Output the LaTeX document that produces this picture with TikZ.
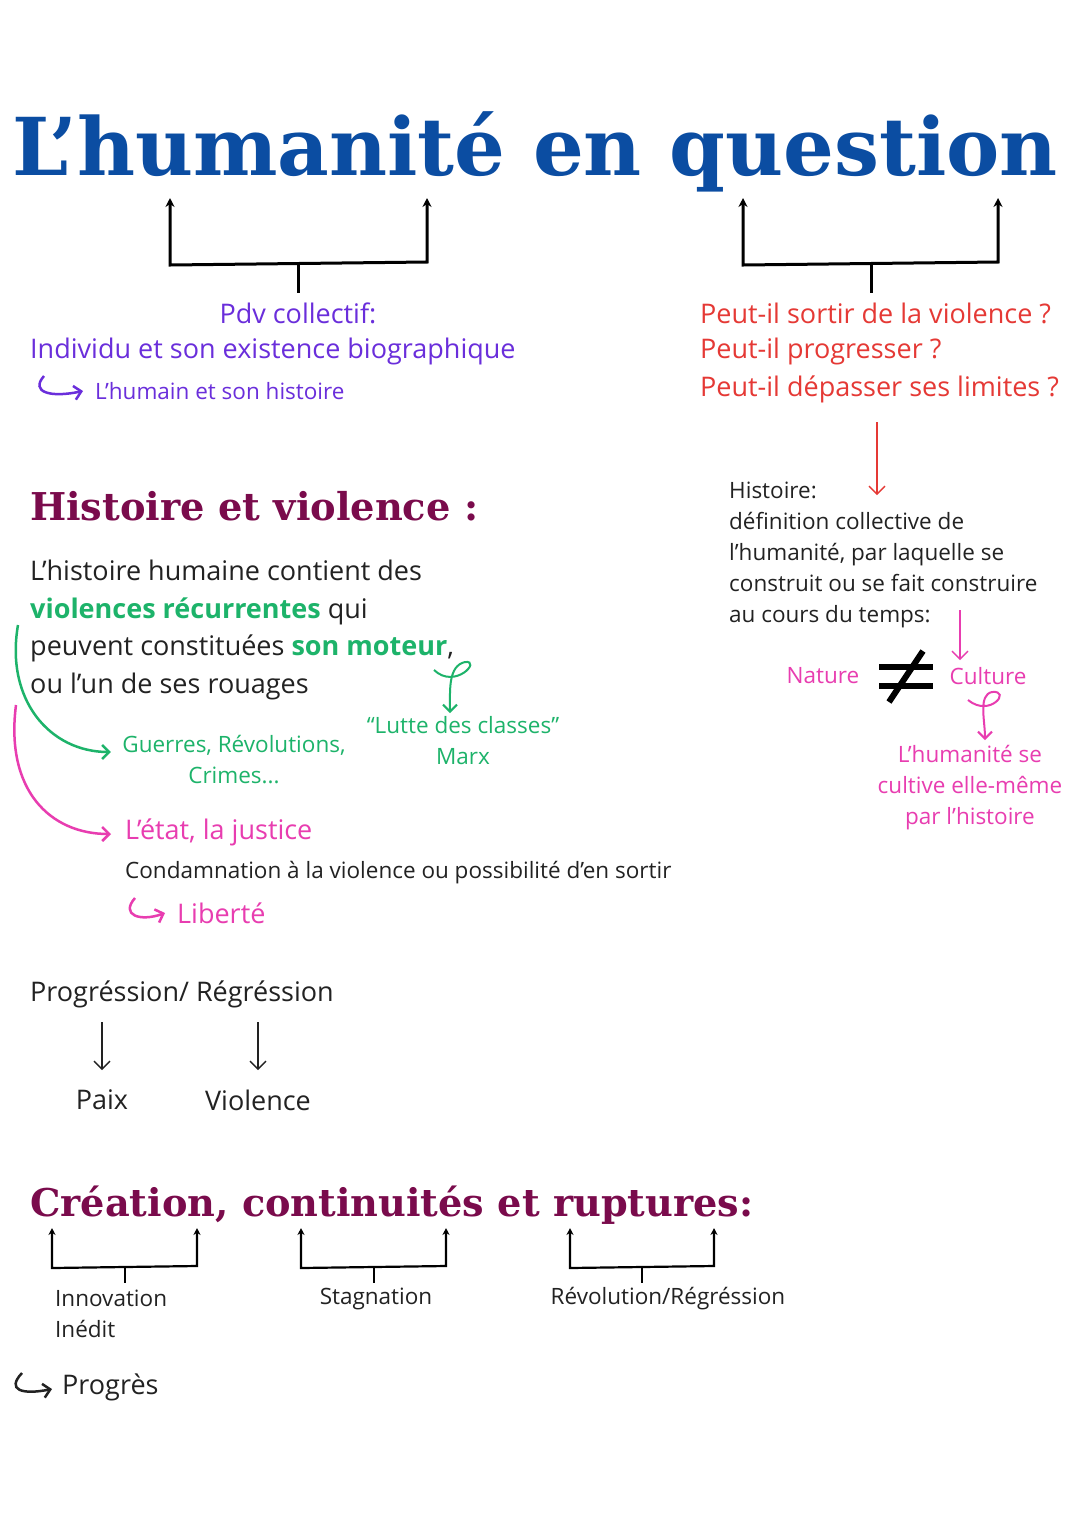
\documentclass[tikz,border=0pt]{standalone}
\usepackage{fontspec}
\setmainfont{Open Sans}
\newfontfamily\slab{DejaVu Serif}
\usetikzlibrary{arrows.meta, positioning, calc}
\definecolor{titleblue}{HTML}{0B4DA2}
\definecolor{pdvpurple}{HTML}{6A2EDB}
\definecolor{qred}{HTML}{E53935}
\definecolor{headplum}{HTML}{7A0B4C}
\definecolor{vgreen}{HTML}{1DB36A}
\definecolor{jpink}{HTML}{E83DB0}
\definecolor{inkdark}{HTML}{222222}
\tikzset{
  big/.style={font=\fontsize{27}{30}\selectfont},
  small/.style={font=\fontsize{22.5}{31}\selectfont},
  brk/.style={line width=3pt, {Stealth[length=9pt,width=9pt]}-{Stealth[length=9pt,width=9pt]}},
  sbrk/.style={line width=2.2pt, {Stealth[length=7pt,width=7pt]}-{Stealth[length=7pt,width=7pt]}},
  thin/.style={line width=1.3pt, -{Straight Barb[length=8pt,width=16pt]}},
  hand/.style={line width=2.5pt, -{Straight Barb[length=7pt,width=14pt]}},
  txt/.style={inner sep=0pt, anchor=west}
}
\begin{document}
\begin{tikzpicture}[x=1pt,y=-1pt]
\useasboundingbox[fill=white] (0,0) rectangle (1080,1527);
% title
\node[txt, text=titleblue] (title) at (12,152) {\resizebox{1045pt}{!}{\slab\bfseries L’humanité en question}};
\draw[brk] (170,198) -- (170,265) -- (427,262) -- (427,198);
\draw[line width=3pt] (298,263) -- (298,293);
\draw[brk] (743,198) -- (743,265) -- (998,262) -- (998,198);
\draw[line width=3pt] (871,264) -- (871,293);
% left: pdv
\node[big, text=pdvpurple, inner sep=0pt] (pdv) at (298,313) {Pdv collectif:};
\node[txt, big, text=pdvpurple] (indiv) at (30,351) {Individu et son existence biographique};
\coordinate (h1) at (44,376);
\node[txt, small, text=pdvpurple] (humain) at (95,391) {L’humain et son histoire};
\draw[hand, pdvpurple] (h1) .. controls (30,392) and (50,398) .. ($(humain.west)+(-12,0)$);
% right: questions
\node[txt, big, text=qred] (q1) at (700,313) {Peut-il sortir de la violence ?};
\node[txt, big, text=qred] (q2) at (700,351) {Peut-il progresser ?};
\node[txt, big, text=qred] (q3) at (700,389) {Peut-il dépasser ses limites ?};
\coordinate (r1) at (877,422);
\coordinate (r2) at (877,495);
\draw[thin, qred] (r1) -- (r2);
\node[txt, small, text=inkdark, align=left, anchor=north west] (hist) at (729,482)
  {Histoire:\\définition collective de\\l’humanité, par laquelle se\\construit ou se fait construire\\au cours du temps:};
\coordinate (p1) at (960,610);
\coordinate (p2) at (960,660);
\draw[thin, jpink] (p1) -- (p2);
\node[small, text=jpink, inner sep=0pt] (nature) at (823,676) {Nature};
\node[small, text=jpink, inner sep=0pt] (culture) at (988,676) {Culture};
% not-equal sign
\draw[line width=6pt] (879,667) -- (933,667) (879,686) -- (933,686);
\draw[line width=6pt] (889,702) -- (923,651);
\coordinate (c1) at (968,700);
\coordinate (c2) at (985,740);
\draw[hand, jpink, line width=2pt] (c1) .. controls (990,718) and (1012,690) .. (992,692) .. controls (978,695) and (985,720) .. (c2);
\node[small, text=jpink, align=center, anchor=north] (cultive) at (970,742) {L’humanité se\\cultive elle-même\\par l’histoire};
% histoire et violence
\node[txt, text=headplum] (hv) at (30,506) {\resizebox{448pt}{!}{\slab\bfseries Histoire et violence :}};
\node[txt, big, text=inkdark, align=left, anchor=north west, font=\fontsize{27}{37.5}\selectfont] (body) at (30,560)
  {L’histoire humaine contient des\\{\color{vgreen}\bfseries violences récurrentes} qui\\peuvent constituées {\color{vgreen}\bfseries son moteur},\\ou l’un de ses rouages};
\coordinate (m1) at (434,670);
\coordinate (m2) at (450,713);
\draw[hand, vgreen, line width=2pt] (m1) .. controls (455,690) and (482,660) .. (465,662) .. controls (448,666) and (450,690) .. (m2);
\node[small, text=vgreen, align=center, anchor=north] (lutte) at (463,713) {“Lutte des classes”\\Marx};
\coordinate (g1) at (18,625);
\node[small, text=vgreen, align=center, anchor=north] (guerres) at (234,732) {Guerres, Révolutions,\\Crimes...};
\draw[hand, vgreen] (g1) .. controls (5,700) and (50,752) .. ($(guerres.north west)+(-8,20)$);
\coordinate (k1) at (16,705);
\node[txt, big, text=jpink] (etat) at (125,832) {L’état, la justice};
\draw[hand, jpink] (k1) .. controls (5,790) and (50,834) .. ($(etat.west)+(-14,2)$);
\node[txt, small, text=inkdark] (condam) at (125,873) {Condamnation à la violence ou possibilité d’en sortir};
\coordinate (h2) at (135,898);
\node[txt, big, text=jpink] (liberte) at (177,913) {Liberté};
\draw[hand, jpink] (h2) .. controls (120,915) and (140,922) .. ($(liberte.west)+(-12,0)$);
% progression
\node[txt, big, text=inkdark] (prog) at (30,994) {Progréssion/ Régréssion};
\node[big, text=inkdark, inner sep=0pt] (paix) at (102,1100) {Paix};
\node[big, text=inkdark, inner sep=0pt] (viol) at (258,1100) {Violence};
\draw[thin, inkdark] (102,1022) -- (paix.north |- 0,1070);
\draw[thin, inkdark] (258,1022) -- (viol.north |- 0,1070);
% creation
\node[txt, text=headplum] (crea) at (30,1205) {\resizebox{723pt}{!}{\slab\bfseries Création, continuités et ruptures:}};
\foreach \xa/\xb/\xs in {52/197/125, 301/446/374, 570/714/642} {
  \draw[sbrk] (\xa,1228) -- (\xa,1268) -- (\xb,1266) -- (\xb,1228);
  \draw[line width=2.2pt] (\xs,1267) -- (\xs,1283);
}
\node[txt, small, text=inkdark, align=left, anchor=north west] (innov) at (55,1290) {Innovation\\Inédit};
\node[small, text=inkdark, inner sep=0pt] (stag) at (376,1299) {Stagnation};
\node[small, text=inkdark, inner sep=0pt] (revo) at (668,1299) {Révolution/Régréssion};
\coordinate (h3) at (22,1373);
\node[txt, big, text=inkdark] (progres) at (62,1387) {Progrès};
\draw[hand, inkdark] (h3) .. controls (6,1390) and (22,1395) .. ($(progres.west)+(-10,2)$);
\end{tikzpicture}
\end{document}
